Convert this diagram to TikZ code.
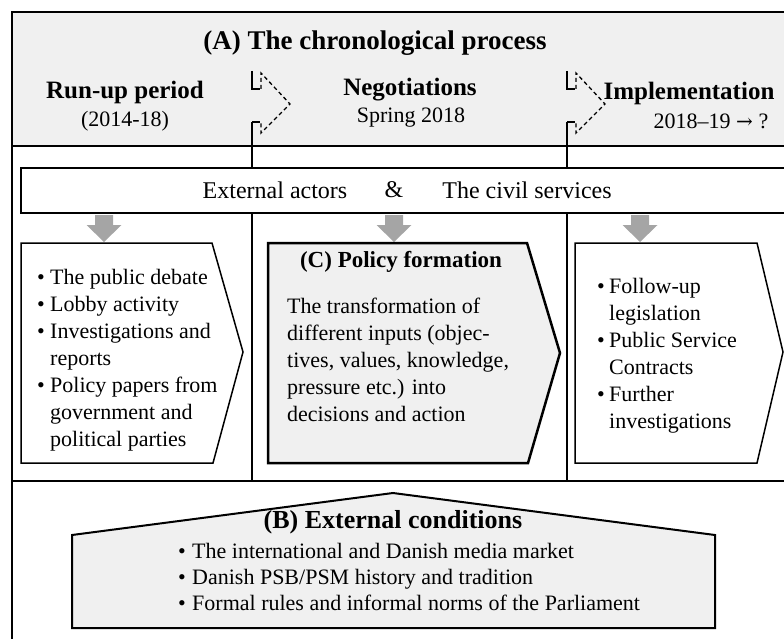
\documentclass[tikz,border=0pt]{standalone}
\usepackage{fontspec}
\setmainfont{Liberation Serif}
\newfontfamily\arrowfont{DejaVu Serif}
\definecolor{bgray}{HTML}{F0F0F0}
\definecolor{agray}{HTML}{A5A5A5}
\newcommand\bodyfont{\fontsize{22}{27}\selectfont}
\newcommand\subfont{\fontsize{22}{26}\selectfont}
\newcommand\headfont{\fontsize{25}{28}\selectfont\bfseries}
\newcommand\lbul{\makebox[13pt][l]{•}}
\newcommand\lind{\hspace*{13pt}}
\newcommand\rbul{\makebox[12pt][l]{•}}
\newcommand\rind{\hspace*{12pt}}
\newcommand\bbul{\makebox[14pt][l]{•}}
\begin{document}
\begin{tikzpicture}[x=1pt,y=-1pt,
  thickrule/.style={line width=2.4pt},
  rule/.style={line width=2pt},
  boxline/.style={line width=1.5pt},
  dashmark/.style={line width=1.3pt,dash pattern=on 4pt off 3pt},
  solidmark/.style={line width=1.5pt},
  txt/.style={inner sep=0pt},
  dnarrow/.pic={\fill[agray] (-9,0) -- (9,0) -- (9,10) -- (17.5,10) -- (0,27) -- (-17.5,10) -- (-9,10) -- cycle;}
]
\useasboundingbox (0,0) rectangle (784,639);
\clip (0,0) rectangle (784,639);
% header background
\fill[bgray] (12,12) rectangle (800,146);
% outer frame
\draw[rule] (800,12) -- (12,12) -- (12,660);
\draw[thickrule] (12,146) -- (800,146);
\draw[thickrule] (12,481) -- (800,481);
% dividers
\coordinate (d1t) at (252,122);
\coordinate (d1b) at (252,481);
\coordinate (d2t) at (567,122);
\coordinate (d2b) at (567,481);
\draw[rule] (d1t) -- (d1b);
\draw[rule] (d2t) -- (d2b);
% dashed chevron marks
\foreach \xx in {252,567}{
\begin{scope}[shift={(\xx,0)}]
\draw[solidmark] (0,71) -- (0,89) -- (8,89);
\draw[dashmark] (9,89) -- (9,73) -- (38,104) -- (9,133) -- (9,122);
\draw[solidmark] (0,122) -- (8,122);
\end{scope}}
% header texts
\node[txt,font=\fontsize{27}{30}\selectfont\bfseries] (title) at (375,43) {(A) The chronological process};
\node[txt,font=\headfont] (runup) at (125,92) {Run-up period};
\node[txt,font=\subfont] (runupd) at (125,121) {(2014-18)};
\node[txt,font=\headfont] (nego) at (410,90) {Negotiations};
\node[txt,font=\subfont] (negod) at (411,118) {Spring 2018};
\node[txt,font=\headfont] (impl) at (689,93) {Implementation};
\node[txt,font=\subfont] (impld) at (711,121) {2018–19 {\arrowfont\fontsize{20}{22}\selectfont →} ?};
% actors box
\draw[boxline,fill=white] (800,168) -- (21,168) -- (21,213) -- (800,213);
\node[txt,font=\fontsize{24}{26}\selectfont] (ext) at (275,190) {External actors};
\node[txt,font=\fontsize{24}{26}\selectfont] (amp) at (394,190) {\&};
\node[txt,font=\fontsize{24}{26}\selectfont] (civ) at (527,190) {The civil services};
% arrows
\pic at (104,215) {dnarrow};
\pic at (394,215) {dnarrow};
\pic at (640,215) {dnarrow};
% left box
\draw[boxline,fill=white] (21,243) -- (212,243) -- (243,352) -- (213,463) -- (21,463) -- cycle;
\node[txt,anchor=base west,align=left,font=\bodyfont] (leftlist) at (37,446)
 {\lbul The public debate\\ \lbul Lobby activity\\ \lbul Investigations and\\ \lind reports\\ \lbul Policy papers from\\ \lind government and\\ \lind political parties};
% C box
\draw[line width=2.5pt,fill=bgray] (268,243) -- (527,243) -- (560,353) -- (528,463) -- (268,463) -- cycle;
\node[txt,font=\fontsize{23}{26}\selectfont\bfseries] (ctitle) at (401,262) {(C) Policy formation};
\node[txt,anchor=base west,align=left,font=\bodyfont] (cbody) at (287,421)
 {The transformation of\\different inputs (objec-\\tives, values, knowledge,\\pressure etc.) into\\decisions and action};
% right box
\draw[boxline,fill=white] (575,243) -- (757,243) -- (783,352) -- (757,463) -- (575,463) -- cycle;
\node[txt,anchor=base west,align=left,font=\bodyfont] (rightlist) at (597,428)
 {\rbul Follow-up\\ \rind legislation\\ \rbul Public Service\\ \rind Contracts\\ \rbul Further\\ \rind investigations};
% bottom house
\draw[line width=2pt,fill=bgray] (72,535) -- (393,493) -- (715,535) -- (715,628) -- (72,628) -- cycle;
\node[txt,font=\fontsize{26}{29}\selectfont\bfseries] (btitle) at (393,522) {(B) External conditions};
\node[txt,anchor=base west,align=left,font=\fontsize{22}{26}\selectfont] (blist) at (178,610)
 {\bbul The international and Danish media market\\ \bbul Danish PSB/PSM history and tradition\\ \bbul Formal rules and informal norms of the Parliament};
\end{tikzpicture}
\end{document}
